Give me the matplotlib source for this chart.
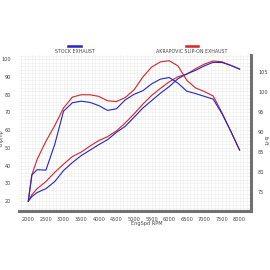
import matplotlib
matplotlib.use("Agg")
import matplotlib.pyplot as plt
from matplotlib.ticker import MultipleLocator

rpm = [2000, 2100, 2250, 2500, 2750, 3000, 3250, 3500, 3750, 4000, 4250, 4500, 4750,
       5000, 5250, 5500, 5750, 6000, 6250, 6500, 6750, 7000, 7250, 7500, 7750, 8000]

# power (left axis)
stock_power = [20.0, 22.5, 24.8, 27.0, 31.0, 37.2, 41.7, 45.6, 48.7, 51.8, 54.6, 58.7, 62.1,
               67.2, 72.4, 76.6, 80.8, 84.5, 89.0, 91.7, 93.7, 96.2, 98.2, 98.1, 96.5, 94.4]
akra_power = [20.0, 23.5, 27.0, 31.0, 36.2, 40.8, 45.1, 47.6, 51.0, 54.1, 56.3, 59.5, 64.0,
              69.1, 74.6, 79.5, 83.5, 87.2, 90.1, 91.5, 94.6, 97.2, 99.0, 98.5, 96.5, 94.4]

# torque (right axis)
stock_torque = [72.7, 79.2, 80.5, 80.4, 86.8, 95.1, 97.2, 97.6, 97.3, 96.5, 95.3, 95.7, 97.9,
                99.3, 100.2, 101.9, 103.1, 103.5, 102.1, 100.1, 99.5, 98.8, 98.1, 94.5, 90.1, 85.4]
akra_torque = [72.7, 79.2, 83.1, 87.6, 91.5, 95.9, 98.6, 99.2, 99.2, 98.8, 97.7, 97.5, 98.5,
               100.4, 103.6, 106.1, 107.4, 107.7, 106.4, 102.8, 100.9, 100.0, 98.9, 94.7, 90.1, 85.4]

BLUE = "#2424c8"
RED = "#d42424"
SPINE = "#707070"
TXT = "#444444"

fig = plt.figure(figsize=(2.7, 2.7), dpi=100)
ax = fig.add_axes([0.0715, 0.2185, 0.8585, 0.5775])
ax2 = ax.twinx()

ax.plot(rpm, akra_power, color=RED, lw=0.8)
ax.plot(rpm, stock_power, color=BLUE, lw=0.8)
ax2.plot(rpm, akra_torque, color=RED, lw=0.8)
ax2.plot(rpm, stock_torque, color=BLUE, lw=0.8)

ax.set_xlim(1744, 8327)
ax.set_ylim(14.4, 102.3)
ax2.set_ylim(70.2, 109.1)

ax.xaxis.set_major_locator(MultipleLocator(500))
ax.xaxis.set_minor_locator(MultipleLocator(100))
ax.yaxis.set_major_locator(MultipleLocator(10))
ax.yaxis.set_minor_locator(MultipleLocator(2))
ax2.yaxis.set_major_locator(MultipleLocator(5))
ax.set_xticks(range(2000, 8001, 500))

ax.grid(which="both", color="#ececec", lw=0.4)
ax.set_axisbelow(True)

for a in (ax, ax2):
    a.tick_params(which="both", length=0, labelsize=3.6, labelcolor=TXT)
    for s in a.spines.values():
        s.set_visible(False)
ax.tick_params(axis="x", pad=4)
ax.tick_params(axis="y", pad=6)
ax2.tick_params(axis="y", pad=5)
ax2.spines["right"].set_visible(True)
ax2.spines["right"].set_color(SPINE)
ax2.spines["right"].set_linewidth(2.2)
ax2.spines["bottom"].set_visible(True)
ax2.spines["bottom"].set_color(SPINE)
ax2.spines["bottom"].set_linewidth(2.2)

ax.set_xlabel("EngSpd RPM", fontsize=3.6, color=TXT)
ax.xaxis.set_label_coords(0.55, -0.065)
ax.set_ylabel("bhp/hp", fontsize=3.4, color=TXT)
ax.yaxis.set_label_coords(-0.068, 0.47)
ax2.set_ylabel("lb-ft", fontsize=3.4, color=TXT, rotation=270, va="center")
ax2.yaxis.set_label_coords(1.062, 0.45)

# legend
fig.lines.append(plt.Line2D([68 / 270, 81 / 270], [1 - 46.3 / 270] * 2,
                            transform=fig.transFigure, color=BLUE, lw=1.8))
fig.text(75 / 270, 1 - 51.5 / 270, "STOCK EXHAUST", fontsize=3.4, color=TXT,
         ha="center", va="center")
fig.lines.append(plt.Line2D([185.7 / 270, 197.7 / 270], [1 - 46.3 / 270] * 2,
                            transform=fig.transFigure, color=RED, lw=1.8))
fig.text(191.5 / 270, 1 - 51.5 / 270, "AKRAPOVIC SLIP-ON EXHAUST", fontsize=3.4, color=TXT,
         ha="center", va="center")

fig.savefig("out.png", dpi=100, facecolor="white")
